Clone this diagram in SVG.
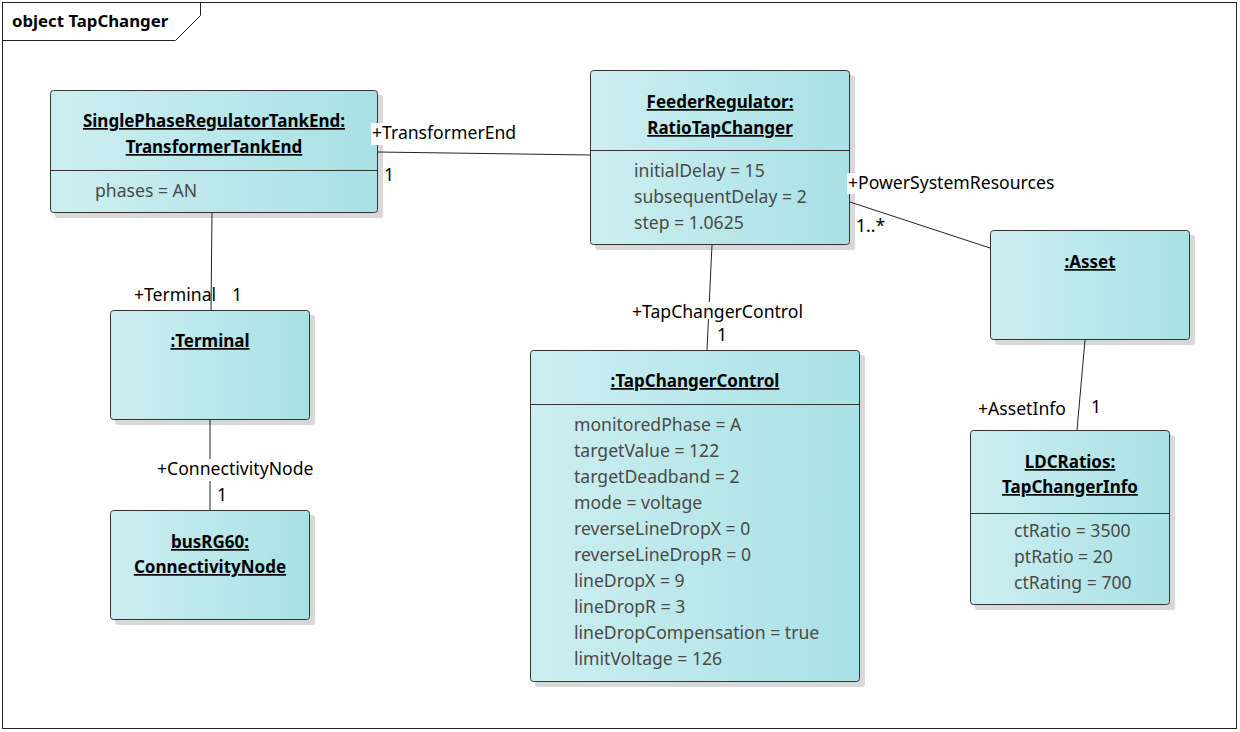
<svg xmlns="http://www.w3.org/2000/svg" width="1240" height="732" viewBox="0 0 1240 732">
<defs>
<linearGradient id="g" x1="0" y1="0" x2="1" y2="0">
<stop offset="0" stop-color="#cdeef0"/>
<stop offset="1" stop-color="#a8e1e5"/>
</linearGradient>
<style>
.box{fill:url(#g);stroke:#333;stroke-width:1}
.sh{fill:#d8d8d8}
.div{stroke:#333;stroke-width:1}
.t{font-family:"Noto Sans","Open Sans",sans-serif;font-size:17px;font-weight:bold;fill:#000;text-anchor:middle;text-decoration:underline}
.a{font-family:"Noto Sans","Open Sans",sans-serif;font-size:17.6px;fill:#4a4a44}
.l{font-family:"Noto Sans","Open Sans",sans-serif;font-size:17.6px;fill:#000}
.c{stroke:#222;stroke-width:1;fill:none}
.bg{fill:#fff}
</style>
</defs>
<rect x="0" y="0" width="1240" height="732" fill="#fff"/>
<g id="frame">
<rect x="2.5" y="2.5" width="1234" height="726" fill="none" stroke="#222"/>
<path d="M2.5 40.5 H175.5 L200.5 15.5 V2.5" fill="none" stroke="#222"/>
<text x="12" y="27" class="l" style="font-weight:bold;font-size:16.8px">object TapChanger</text>
</g>
<g id="n-tankend">
<rect class="sh" x="55" y="95" width="328" height="123" rx="3"/>
<rect class="box" x="50.5" y="90.5" width="327" height="122" rx="3"/>
<line class="div" x1="50.5" y1="170.5" x2="377.5" y2="170.5"/>
<text class="t" x="214" y="127">SinglePhaseRegulatorTankEnd: </text>
<text class="t" x="214" y="153">TransformerTankEnd</text>
<text class="a" x="95" y="197">phases = AN</text>
</g>
<g id="n-feeder">
<rect class="sh" x="595" y="75" width="260" height="175" rx="3"/>
<rect class="box" x="590.5" y="70.5" width="259" height="174" rx="3"/>
<line class="div" x1="590.5" y1="150.5" x2="849.5" y2="150.5"/>
<text class="t" x="720" y="108">FeederRegulator: </text>
<text class="t" x="720" y="134">RatioTapChanger</text>
<text class="a" x="634" y="177">initialDelay = 15</text>
<text class="a" x="634" y="203">subsequentDelay = 2</text>
<text class="a" x="634" y="229">step = 1.0625</text>
</g>
<g id="n-asset">
<rect class="sh" x="995" y="235" width="200" height="110" rx="3"/>
<rect class="box" x="990.5" y="230.5" width="199" height="109" rx="3"/>
<text class="t" x="1090" y="268">:Asset</text>
</g>
<g id="n-terminal">
<rect class="sh" x="115" y="315" width="200" height="110" rx="3"/>
<rect class="box" x="110.5" y="310.5" width="199" height="109" rx="3"/>
<text class="t" x="210" y="347">:Terminal</text>
</g>
<g id="n-bus">
<rect class="sh" x="115" y="515" width="200" height="110" rx="3"/>
<rect class="box" x="110.5" y="510.5" width="199" height="109" rx="3"/>
<text class="t" x="210" y="548">busRG60: </text>
<text class="t" x="210" y="573">ConnectivityNode</text>
</g>
<g id="n-tcc">
<rect class="sh" x="535" y="355" width="330" height="332" rx="3"/>
<rect class="box" x="530.5" y="350.5" width="329" height="331" rx="3"/>
<line class="div" x1="530.5" y1="404.5" x2="859.5" y2="404.5"/>
<text class="t" x="695" y="387">:TapChangerControl</text>
<text class="a" x="574" y="431">monitoredPhase = A</text>
<text class="a" x="574" y="457">targetValue = 122</text>
<text class="a" x="574" y="483">targetDeadband = 2</text>
<text class="a" x="574" y="509">mode = voltage</text>
<text class="a" x="574" y="535">reverseLineDropX = 0</text>
<text class="a" x="574" y="561">reverseLineDropR = 0</text>
<text class="a" x="574" y="587">lineDropX = 9</text>
<text class="a" x="574" y="613">lineDropR = 3</text>
<text class="a" x="574" y="639">lineDropCompensation = true</text>
<text class="a" x="574" y="665">limitVoltage = 126</text>
</g>
<g id="n-ldc">
<rect class="sh" x="975" y="435" width="200" height="175" rx="3"/>
<rect class="box" x="970.5" y="430.5" width="199" height="174" rx="3"/>
<line class="div" x1="970.5" y1="513.5" x2="1169.5" y2="513.5"/>
<text class="t" x="1070" y="468">LDCRatios: </text>
<text class="t" x="1070" y="493">TapChangerInfo</text>
<text class="a" x="1014" y="537">ctRatio = 3500</text>
<text class="a" x="1014" y="563">ptRatio = 20</text>
<text class="a" x="1014" y="589">ctRating = 700</text>
</g>
<g id="connectors">
<line class="c" x1="378" y1="152" x2="590" y2="155"/>
<line class="c" x1="212" y1="213" x2="211" y2="310"/>
<line class="c" x1="210" y1="420" x2="210" y2="510"/>
<line class="c" x1="712" y1="245" x2="707" y2="350"/>
<line class="c" x1="850" y1="202" x2="990" y2="248"/>
<line class="c" x1="1085" y1="340" x2="1077" y2="430"/>
<rect class="bg" x="371" y="123" width="148" height="22"/>
<text class="l" x="372" y="139">+TransformerEnd</text>
<text class="l" x="384" y="181">1</text>
<text class="l" x="134" y="301">+Terminal</text>
<text class="l" x="232" y="301">1</text>
<rect class="bg" x="155" y="459" width="162" height="22"/>
<text class="l" x="157" y="475">+ConnectivityNode</text>
<text class="l" x="217" y="501">1</text>
<rect class="bg" x="630" y="302" width="178" height="17"/>
<text class="l" x="632" y="318">+TapChangerControl</text>
<text class="l" x="717" y="341">1</text>
<rect class="bg" x="847" y="173" width="208" height="21"/>
<text class="l" x="848" y="189">+PowerSystemResources</text>
<text class="l" x="856" y="232">1..*</text>
<text class="l" x="978" y="415">+AssetInfo</text>
<text class="l" x="1091" y="413">1</text>
</g>
</svg>
